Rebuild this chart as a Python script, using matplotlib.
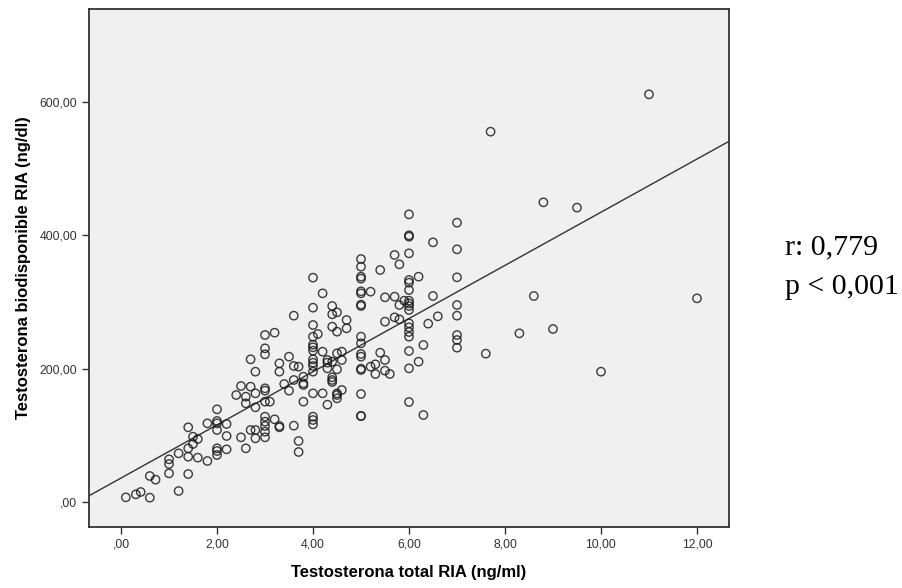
import numpy as np
import matplotlib
matplotlib.use('Agg')
import matplotlib.pyplot as plt
from matplotlib.ticker import FuncFormatter

# Testosterona total RIA (ng/ml)
total = [0.10, 0.31, 0.41, 0.60, 1.20, 0.60, 0.72, 1.0, 1.0, 1.0, 1.4, 1.2, 1.4, 1.4, 1.5, 1.5,
         1.6, 1.4, 1.6, 1.8, 1.8, 2.0, 2.0, 2.0, 2.0, 2.0, 2.0, 2.0, 2.2, 2.2, 2.2, 2.5, 2.6,
         2.7, 2.8, 2.8, 3.0, 3.0, 3.0, 3.0, 3.0, 3.2, 3.3, 3.3, 3.6, 3.7, 3.7, 3.8, 3.8, 2.8,
         3.0, 3.1, 2.7, 2.8, 2.5, 2.4, 2.6, 2.6, 3.0, 3.0, 3.4, 3.5, 3.6, 3.6, 3.7, 3.5, 3.3,
         3.3, 3.0, 3.2, 3.0, 3.0, 2.7, 2.8, 3.8, 3.8,
         6.0, 6.0, 6.0, 6.0, 5.7, 5.8, 5.0, 5.0, 5.0, 5.0, 5.0, 5.0, 5.0, 5.0, 5.2, 5.4, 4.0,
         4.2, 4.0, 3.6, 4.4, 4.4, 4.5, 4.4, 4.5, 4.7, 4.7, 4.0, 4.1, 4.0, 4.0, 4.0, 4.0, 4.0,
         4.0, 4.0, 4.0, 4.2, 4.3, 4.3, 4.4, 4.5, 4.6, 4.6, 4.3, 4.5, 4.4, 4.4, 4.4, 5.0, 5.0,
         5.0, 5.0, 5.0, 5.0, 5.0, 5.4, 5.5, 5.3, 5.2, 5.3, 5.5, 5.6, 5.5, 5.7, 5.8, 5.7, 5.5,
         5.8, 5.9, 6.0, 6.0, 6.0, 6.0, 6.0, 6.0, 6.0, 6.0, 6.0, 6.0, 6.0, 6.0, 6.0, 6.2, 6.2,
         4.2, 4.0, 4.5, 4.6, 8.8, 9.5, 7.0, 7.0, 7.0, 7.0, 7.0, 7.0, 7.0, 7.0, 8.6, 8.3, 9.0,
         7.6, 10.0, 6.5, 6.5, 6.6, 6.4, 6.3, 6.0, 6.3, 5.0, 5.0, 4.0, 4.0, 4.0, 4.5, 4.5, 4.3,
         11.0, 12.0, 7.7]

# Testosterona biodisponible RIA (ng/dl)
biodisp = [7, 11.5, 15, 6.5, 16.5, 39, 33.5, 43, 57, 64, 42, 73, 68, 80.5, 87, 98,
           94.5, 112, 66.5, 61.5, 118, 139, 121.5, 118, 108, 80.5, 76.5, 70.5, 117, 99, 79, 97, 80.5,
           108, 108, 95.5, 128, 120.5, 114, 105.5, 97, 124, 114, 112, 114.5, 91.5, 75, 150.5, 175.5, 142,
           150.5, 150.5, 173, 163, 174, 160.5, 158, 148, 170.5, 167, 177, 167, 183, 204, 203, 218, 208,
           195.5, 250.5, 254, 230.5, 221.5, 214, 195.5, 188, 178,
           431.5, 400, 398, 373, 370.5, 356.5, 364.5, 353, 338, 335, 316, 313, 296, 294, 315.5, 348, 336.5,
           313, 291.5, 279.5, 294, 281.5, 284.5, 263, 255.5, 273, 260.5, 265.5, 252, 248, 236, 232, 227, 214,
           209, 204, 195.5, 225.5, 213, 209, 210.5, 223, 225.5, 213, 200.5, 199, 187, 180, 183, 248, 238,
           222, 218, 200, 198, 162, 224, 213, 206.5, 203, 192, 197, 192, 270.5, 277, 274, 308, 307,
           295.5, 302, 333, 329, 318, 302, 298, 294, 288, 268, 262, 255, 248, 226.5, 200.5, 338, 210.5,
           163, 163, 163, 168, 449.5, 441.5, 419, 379, 337, 295.5, 279.5, 250.5, 243, 231.5, 309, 253, 259.5,
           222.5, 195.5, 389.5, 309, 278.5, 267.5, 235.5, 150, 130.5, 129, 129, 128, 123, 116.5, 160.5, 155.5, 146,
           611.5, 305.5, 555.5]

r_text = "r: 0,779"
p_text = "p < 0,001"

x = np.array(total)
y = np.array(biodisp)

fig = plt.figure(figsize=(9.02, 5.88), dpi=100)
ax = fig.add_axes([89/902, 1-527/588, 640/902, 518/588])
ax.set_facecolor('#f0f0f0')

ax.scatter(x, y, s=36, facecolors='none', edgecolors='#1a1a1a', linewidths=1.0, alpha=0.85, zorder=3)

# fit line (least squares)
m, b = np.polyfit(x, y, 1)
xl = np.array([-0.67, 12.67])
ax.plot(xl, m*xl + b, color='#333333', lw=1.0, zorder=2)

ax.set_xlim(-0.667, 12.667)
ax.set_ylim(-37.5, 739.5)
ax.set_xticks([0, 2, 4, 6, 8, 10, 12])
ax.set_yticks([0, 200, 400, 600])

def fmt(v, pos):
    s = f"{v:.2f}".replace('.', ',')
    if s.startswith('0,'):
        s = s[1:]
    return s

ax.xaxis.set_major_formatter(FuncFormatter(fmt))
ax.yaxis.set_major_formatter(FuncFormatter(fmt))
ax.tick_params(direction='out', length=5, width=1, colors='#333333', labelsize=8.8)
for lab in ax.get_xticklabels() + ax.get_yticklabels():
    lab.set_fontfamily('Liberation Sans')

for sp in ax.spines.values():
    sp.set_linewidth(1.3)
    sp.set_color('#333333')

ax.set_xlabel("Testosterona total RIA (ng/ml)", fontsize=12, fontweight='bold',
              family='Liberation Sans', labelpad=10)
ax.set_ylabel("Testosterona biodisponible RIA (ng/dl)", fontsize=12, fontweight='bold',
              family='Liberation Sans', labelpad=6)

fig.text(785/902, 1-247/588, r_text, fontsize=21.5, family='Liberation Serif', va='center', ha='left')
fig.text(785/902, 1-287/588, p_text, fontsize=21.5, family='Liberation Serif', va='center', ha='left')

fig.savefig('out.png', dpi=100)
